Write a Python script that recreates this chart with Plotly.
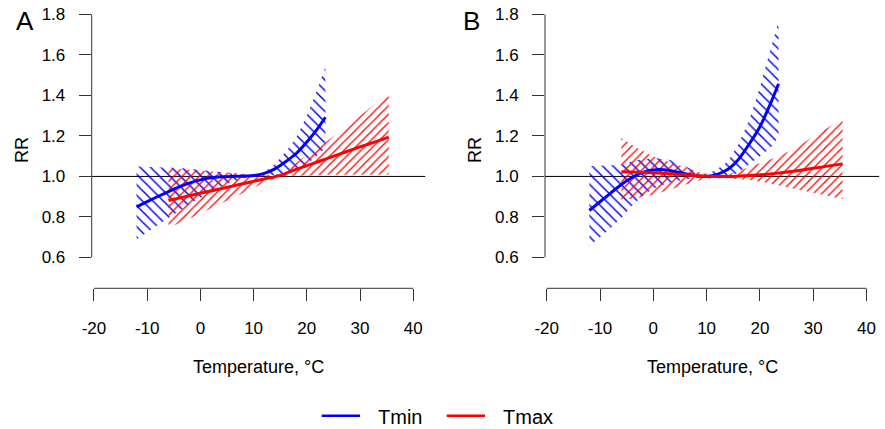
import plotly.graph_objects as go

W, H = 885, 429

# ---------------- data ----------------
# Panel A
a_tmin_t  = [-12, -10, -8, -6, -4, -2, 0, 2, 4, 6, 8, 10, 12, 14, 16, 18, 20, 22, 23.5]
a_tmin_rr = [0.850, 0.876, 0.901, 0.925, 0.948, 0.968, 0.983, 0.993, 0.998, 1.000, 1.001, 1.004,
             1.015, 1.037, 1.072, 1.113, 1.170, 1.235, 1.292]
a_tmin_hi = [1.049, 1.048, 1.047, 1.045, 1.042, 1.038, 1.033, 1.028, 1.022, 1.015, 1.009, 1.005,
             1.020, 1.060, 1.120, 1.190, 1.300, 1.430, 1.542]
a_tmin_lo = [0.690, 0.725, 0.757, 0.795, 0.830, 0.865, 0.895, 0.925, 0.950, 0.975, 0.990, 1.000,
             1.003, 1.008, 1.015, 1.030, 1.060, 1.105, 1.140]

a_tmax_t  = [-6, -3, 0, 3, 6, 9, 12, 15, 18, 21, 24, 27, 30, 33, 35.4]
a_tmax_rr = [0.881, 0.899, 0.917, 0.934, 0.952, 0.970, 0.988, 1.005, 1.035, 1.062, 1.090, 1.118,
             1.146, 1.172, 1.194]
a_tmax_hi = [1.040, 1.035, 1.030, 1.023, 1.017, 1.012, 1.005, 1.013, 1.067, 1.122, 1.178, 1.237,
             1.299, 1.359, 1.411]
a_tmax_lo = [0.746, 0.781, 0.817, 0.853, 0.891, 0.930, 0.971, 0.997, 1.004, 1.005, 1.008, 1.011,
             1.011, 1.010, 1.010]

# Panel B
b_tmin_t  = [-12, -10, -8, -6, -4, -2, 0, 2, 4, 6, 8, 10, 12, 14, 16, 18, 20, 22, 23.5]
b_tmin_rr = [0.832, 0.875, 0.918, 0.960, 0.995, 1.020, 1.032, 1.033, 1.025, 1.013, 1.003, 1.000,
             1.010, 1.035, 1.085, 1.160, 1.245, 1.360, 1.457]
b_tmin_hi = [1.050, 1.052, 1.054, 1.058, 1.075, 1.085, 1.090, 1.088, 1.075, 1.052, 1.025, 1.010,
             1.035, 1.075, 1.160, 1.280, 1.440, 1.630, 1.764]
b_tmin_lo = [0.655, 0.700, 0.745, 0.795, 0.855, 0.905, 0.940, 0.960, 0.975, 0.985, 0.993, 0.998,
             0.990, 0.995, 1.020, 1.060, 1.100, 1.140, 1.197]

b_tmax_t  = [-6, -3, 0, 3, 6, 9, 12, 15, 18, 21, 24, 27, 30, 33, 35.5]
b_tmax_rr = [1.023, 1.021, 1.018, 1.013, 1.008, 1.002, 1.000, 1.000, 1.004, 1.010, 1.018, 1.028,
             1.040, 1.052, 1.062]
b_tmax_hi = [1.190, 1.140, 1.098, 1.070, 1.045, 1.018, 1.005, 1.017, 1.045, 1.075, 1.105, 1.145,
             1.197, 1.245, 1.283]
b_tmax_lo = [0.882, 0.895, 0.909, 0.933, 0.958, 0.983, 0.995, 0.990, 0.982, 0.970, 0.955, 0.937,
             0.920, 0.902, 0.888]

x_ticks = [-20, -10, 0, 10, 20, 30, 40]
x_ticktext = ["-20", "-10", "0", "10", "20", "30", "40"]
y_ticks = [0.6, 0.8, 1.0, 1.2, 1.4, 1.6, 1.8]
y_ticktext = ["0.6", "0.8", "1.0", "1.2", "1.4", "1.6", "1.8"]

BLUE = "#0000FF"
RED = "#FF0000"
FONT = "Liberation Sans, Arial, sans-serif"
AXC = "#333333"

def px(x):
    return x / W

def py(y):
    return 1 - y / H

fig = go.Figure()

def band(t, lo, hi, color, shape, size, sol, xa, ya):
    return go.Scatter(
        x=list(t) + list(t)[::-1], y=list(hi) + list(lo)[::-1],
        xaxis=xa, yaxis=ya, mode="lines", fill="toself",
        line=dict(width=0, color="rgba(0,0,0,0)"),
        fillcolor=color,
        fillpattern=dict(shape=shape, fgcolor=color, bgcolor="rgba(0,0,0,0)",
                         size=size, solidity=sol, fillmode="replace"),
        hoverinfo="skip", showlegend=False)

def curve(t, rr, color, name, xa, ya):
    return go.Scatter(x=t, y=rr, xaxis=xa, yaxis=ya, mode="lines",
                      line=dict(color=color, width=3, shape="spline", smoothing=0.6),
                      name=name, showlegend=False)

for (xa, ya, tn, rn, ln, hn, tx, rx, lx, hx) in [
    ("x", "y", a_tmin_t, a_tmin_rr, a_tmin_lo, a_tmin_hi, a_tmax_t, a_tmax_rr, a_tmax_lo, a_tmax_hi),
    ("x2", "y2", b_tmin_t, b_tmin_rr, b_tmin_lo, b_tmin_hi, b_tmax_t, b_tmax_rr, b_tmax_lo, b_tmax_hi),
]:
    fig.add_trace(band(tn, ln, hn, BLUE, "\\", 7.4, 0.2, xa, ya))
    fig.add_trace(band(tx, lx, hx, RED, "/", 6.0, 0.21, xa, ya))
    fig.add_trace(curve(tn, rn, BLUE, "Tmin", xa, ya))
    fig.add_trace(curve(tx, rx, RED, "Tmax", xa, ya))

ydom = [py(288.3), py(3.75)]
xcommon = dict(showgrid=False, zeroline=False, showline=False, ticks="outside", ticklen=12,
               tickwidth=1, tickcolor=AXC, tickvals=x_ticks, ticktext=x_ticktext,
               tickfont=dict(family=FONT, size=17, color="black"), ticklabelstandoff=12,
               automargin=False, fixedrange=True)
ycommon = dict(showgrid=False, zeroline=False, showline=False, ticks="outside", ticklen=12,
               tickwidth=1, tickcolor=AXC, tickvals=y_ticks, ticktext=y_ticktext,
               tickfont=dict(family=FONT, size=17, color="black"), ticklabelstandoff=10,
               range=[0.448, 1.852], domain=ydom, automargin=False, fixedrange=True)

fig.update_layout(
    template="none",
    width=W, height=H, margin=dict(l=0, r=0, t=0, b=0, pad=0),
    paper_bgcolor="white", plot_bgcolor="white", showlegend=False,
    font=dict(family=FONT, color="black"),
    xaxis=dict(domain=[px(91.7), px(425.3)], range=[-20.43, 42.27], anchor="y", **xcommon),
    yaxis=dict(anchor="x", **ycommon),
    xaxis2=dict(domain=[px(545), px(879.2)], range=[-20.32, 42.38], anchor="y2", **xcommon),
    yaxis2=dict(anchor="x2", **ycommon),
)

shapes = []
for xa, ya in [("x", "y"), ("x2", "y2")]:
    # reference line RR = 1
    shapes.append(dict(type="line", xref=f"{xa} domain", yref=ya, x0=0, x1=1, y0=1, y1=1,
                       line=dict(color="black", width=1), layer="below"))
    # R-style detached axis lines
    shapes.append(dict(type="line", xref=f"{xa} domain", yref=ya, x0=0, x1=0,
                       y0=y_ticks[0], y1=y_ticks[-1], line=dict(color=AXC, width=1)))
    shapes.append(dict(type="line", xref=xa, yref=f"{ya} domain", x0=x_ticks[0], x1=x_ticks[-1],
                       y0=0, y1=0, line=dict(color=AXC, width=1)))

# legend keys
shapes.append(dict(type="line", xref="paper", yref="paper", x0=px(321.7), x1=px(360),
                   y0=py(415.7), y1=py(415.7), line=dict(color=BLUE, width=2.5)))
shapes.append(dict(type="line", xref="paper", yref="paper", x0=px(446.7), x1=px(485),
                   y0=py(415.7), y1=py(415.7), line=dict(color=RED, width=2.5)))
fig.update_layout(shapes=shapes)

ann = []
def text(t, x, y, size, xanchor="center", angle=0):
    ann.append(dict(text=t, x=px(x), y=py(y), xref="paper", yref="paper", showarrow=False,
                    xanchor=xanchor, yanchor="middle", textangle=angle,
                    font=dict(family=FONT, size=size, color="black")))

text("A", 25, 21, 26)
text("B", 471, 21, 26)
text("RR", 22, 150, 18, angle=-90)
text("RR", 475, 150, 18, angle=-90)
text("Temperature, °C", 258.5, 367, 18)
text("Temperature, °C", 712, 367, 18)
text("Tmin", 376, 417, 20, xanchor="left")
text("Tmax", 501, 417, 20, xanchor="left")
fig.update_layout(annotations=ann)

fig.write_html(
    "out.html",
    config={"displayModeBar": False},
    post_script="document.body.style.margin='0';document.body.style.padding='0';"
                "document.body.style.overflow='hidden';",
)
